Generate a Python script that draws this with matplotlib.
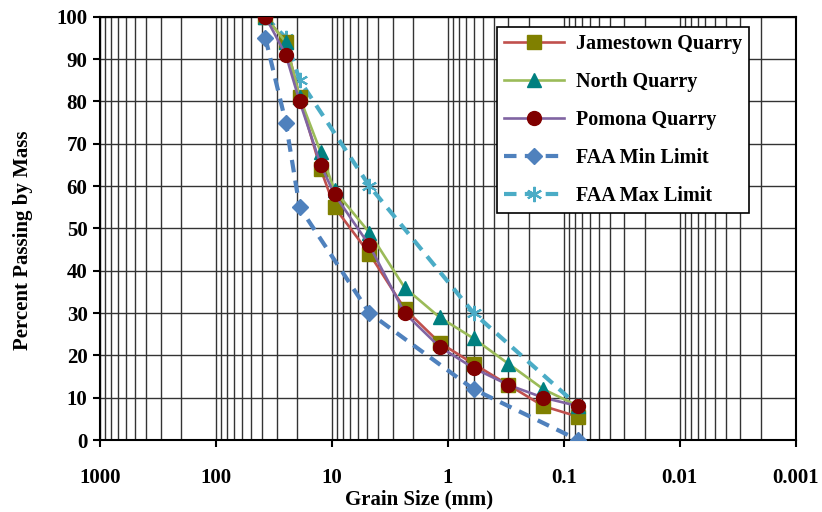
import matplotlib.pyplot as plt
from matplotlib.ticker import LogLocator, NullFormatter, FixedLocator

plt.rcParams['font.family'] = ['Liberation Serif', 'DejaVu Serif']
plt.rcParams['font.weight'] = 'bold'

# sieve sizes in mm
sieve = [37.5, 25, 19, 12.5, 9.5, 4.75, 2.36, 1.18, 0.6, 0.3, 0.15, 0.075]
jamestown = [100, 94, 81, 64, 55, 44, 31, 23, 18, 13, 8, 5.5]
north = [100, 94, 81, 68, 59, 49, 36, 29, 24, 18, 12, 8]
pomona = [100, 91, 80, 65, 58, 46, 30, 22, 17, 13, 10, 8]

limit_sieve = [37.5, 25, 19, 4.75, 0.6, 0.075]
faa_min = [95, 75, 55, 30, 12, 0]
faa_max = [100, 95, 85, 60, 30, 8]

x_ticks = [1000, 100, 10, 1, 0.1, 0.01, 0.001]
x_tick_labels = ['1000', '100', '10', '1', '0.1', '0.01', '0.001']

fig = plt.figure(figsize=(8.22, 5.12), dpi=100)
ax = fig.add_axes([0.1217, 0.1406, 0.8463, 0.8268])

ax.set_xscale('log')
ax.set_xlim(1000, 0.001)
ax.set_ylim(0, 100)

ax.plot(sieve, jamestown, color='#C0504D', lw=1.9, marker='s', ms=9.5,
        mfc='#808000', mec='#808000', label='Jamestown Quarry', zorder=4)
ax.plot(sieve, north, color='#9BBB59', lw=1.9, marker='^', ms=9.5,
        mfc='#008080', mec='#008080', label='North Quarry', zorder=4)
ax.plot(sieve, pomona, color='#8064A2', lw=1.9, marker='o', ms=10,
        mfc='#800000', mec='#800000', label='Pomona Quarry', zorder=4)
ax.plot(limit_sieve, faa_min, color='#4F81BD', lw=3, ls=(0, (3, 2)), marker='D', ms=8,
        mfc='#4F81BD', mec='#4F81BD', label='FAA Min Limit', zorder=3)
ax.plot(limit_sieve, faa_max, color='#4BACC6', lw=3, ls=(0, (3, 2)), marker=(6, 2, 0), ms=11,
        mfc='#4BACC6', mec='#4BACC6', mew=1.5, label='FAA Max Limit', zorder=3)

ax.xaxis.set_major_locator(FixedLocator(x_ticks))
ax.set_xticklabels(x_tick_labels)
ax.xaxis.set_minor_locator(LogLocator(base=10, subs=range(2, 10), numticks=20))
ax.xaxis.set_minor_formatter(NullFormatter())
ax.set_yticks(range(0, 101, 10))

ax.grid(which='major', color='#333333', lw=1.0)
ax.grid(which='minor', axis='x', color='#333333', lw=1.0)
ax.set_axisbelow(True)

for s in ax.spines.values():
  s.set_linewidth(1.5)
  s.set_color('black')
ax.tick_params(axis='x', which='major', direction='out', length=5, width=1.5, pad=15, labelsize=15)
ax.tick_params(axis='x', which='minor', length=0)
ax.tick_params(axis='y', direction='out', length=5, width=1.5, pad=4, labelsize=15)

ax.set_xlabel('Grain Size (mm)', fontsize=15, fontweight='bold')
ax.set_ylabel('Percent Passing by Mass', fontsize=15, fontweight='bold')
ax.xaxis.set_label_coords(0.458, -0.118)
ax.yaxis.set_label_coords(-0.096, 0.472)

leg = ax.legend(loc='upper left', bbox_to_anchor=(0.570, 0.976), fontsize=14.5, frameon=True,
                fancybox=False, edgecolor='black', framealpha=1, borderpad=0.35,
                labelspacing=0.9, handlelength=3.0, handletextpad=0.6, borderaxespad=0)
leg.get_frame().set_linewidth(1.2)
leg.set_zorder(10)

plt.savefig('out.png', dpi=100)
